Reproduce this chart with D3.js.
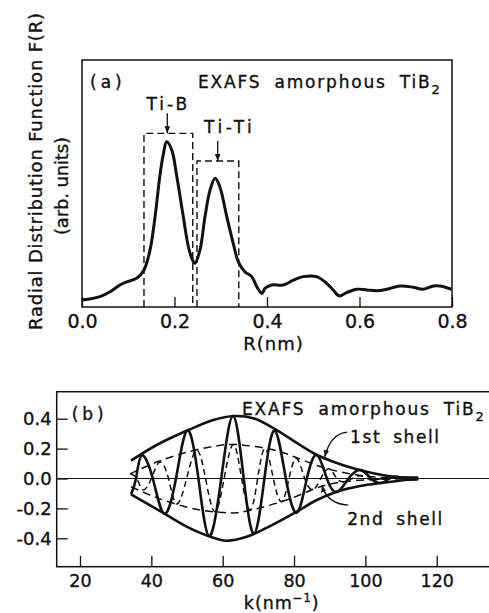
<!DOCTYPE html>
<html>
<head>
<meta charset="utf-8">
<script src="https://cdn.jsdelivr.net/npm/d3@7"></script>
<style>
  html, body { margin: 0; padding: 0; background: #fff; }
  svg { display: block; font-family: "DejaVu Sans", sans-serif; }
  svg text { stroke: #111; stroke-width: 0.35px; }
</style>
</head>
<body>
<svg id="chart" width="489" height="613"></svg>
<script>
// ---------- (a) radial distribution function F(R) ----------
const rdfR = [0.000, 0.039, 0.061, 0.082, 0.097, 0.118, 0.134, 0.147, 0.158, 0.169, 0.176, 0.183,
              0.194, 0.205, 0.219, 0.230, 0.239, 0.244, 0.255, 0.266, 0.277, 0.288, 0.298, 0.313,
              0.327, 0.338, 0.352, 0.367, 0.378, 0.389, 0.396, 0.410, 0.435, 0.457, 0.478, 0.507,
              0.529, 0.543, 0.556, 0.572, 0.594, 0.616, 0.637, 0.659, 0.688, 0.716, 0.738, 0.760,
              0.774, 0.799];
const rdfF = [2.8, 4.2, 6.2, 8.9, 10.2, 11.6, 15.0, 23.0, 36.6, 54.0, 62.0, 66.9,
              63.6, 52.8, 36.6, 24.4, 19.0, 17.7, 23.0, 36.6, 47.4, 52.1, 48.7, 36.6,
              25.8, 18.3, 14.3, 12.3, 8.2, 5.5, 7.6, 8.9, 8.9, 10.9, 12.3, 12.3,
              9.6, 6.9, 4.5, 5.8, 7.2, 6.9, 6.6, 7.2, 8.5, 8.0, 7.2, 8.5,
              8.5, 7.2];
const rTicks = [0, 0.2, 0.4, 0.6, 0.8];

// filter windows around the two coordination shells
const windowNames  = ["Ti-B", "Ti-Ti"];
const windowFrom   = [0.134, 0.2486];
const windowTo     = [0.2394, 0.339];
const windowTop    = [70.3, 59.1];
const windowArrowR = [0.1844, 0.2934];

// ---------- (b) back-transformed EXAFS of each shell: [k, chi] ----------
const kTicks   = [20, 40, 60, 80, 100, 120];
const chiTicks = [-0.4, -0.2, 0.0, 0.2, 0.4];

const shell1Wave = [[34.3, -0.106], [35.7, 0.0], [37.3, 0.155], [40.4, 0.0], [43.6, -0.235],
  [46.9, 0.0], [50.1, 0.322], [53.2, 0.0], [56.2, -0.385], [59.6, 0.0], [62.9, 0.418],
  [65.9, 0.0], [68.8, -0.37], [71.7, 0.0], [74.6, 0.32], [77.7, 0.0], [80.8, -0.228],
  [83.6, 0.0], [86.4, 0.157], [89.2, 0.0], [92.0, -0.09], [95.3, 0.0], [98.7, 0.056],
  [101.6, 0.0], [104.5, -0.03], [106.7, 0.0], [109.0, 0.012], [111.5, -0.006], [114.8, 0.0]];
const shell1Upper = [[34.3, 0.119], [41.5, 0.224], [50.4, 0.324], [57.4, 0.391], [63.0, 0.418],
  [68.6, 0.403], [75.1, 0.324], [81.7, 0.224], [86.4, 0.157], [91.0, 0.112], [96.6, 0.068],
  [102.2, 0.035], [107.8, 0.012], [114.8, 0.0]];
const shell1Lower = [[34.3, -0.106], [38.7, -0.166], [43.8, -0.237], [49.9, -0.322], [56.0, -0.385],
  [61.1, -0.416], [66.7, -0.39], [72.3, -0.33], [79.8, -0.235], [86.4, -0.144], [92.0, -0.088],
  [98.5, -0.05], [105.0, -0.028], [114.8, 0.0]];

const shell2Wave = [[34.2, 0.03], [35.9, 0.0], [37.7, -0.075], [40.0, 0.0], [42.4, 0.11],
  [44.8, 0.0], [47.1, -0.17], [49.9, 0.0], [52.7, 0.19], [55.2, 0.0], [57.8, -0.222],
  [60.4, 0.0], [63.0, 0.228], [65.3, 0.0], [67.7, -0.21], [69.8, 0.0], [71.9, 0.2],
  [74.2, 0.0], [76.5, -0.155], [78.6, 0.0], [80.7, 0.135], [83.0, 0.0], [85.3, -0.075],
  [87.5, 0.0], [89.8, 0.065], [92.0, 0.0], [94.2, -0.022], [96.3, 0.0], [98.5, 0.018],
  [100.6, 0.0], [102.7, -0.01], [105.5, 0.0], [114.8, 0.0]];
const shell2Upper = [[34.0, 0.03], [41.5, 0.11], [49.9, 0.175], [57.4, 0.215], [62.5, 0.228],
  [68.6, 0.215], [76.1, 0.18], [81.7, 0.13], [87.3, 0.08], [92.9, 0.045], [100.4, 0.015],
  [107.0, 0.004], [114.8, 0.0]];
const shell2Lower = [[34.3, -0.055], [39.6, -0.11], [46.2, -0.166], [53.6, -0.211], [59.2, -0.225],
  [63.9, -0.229], [71.4, -0.19], [77.9, -0.144], [83.6, -0.09], [87.3, -0.055], [93.0, -0.025],
  [100.0, -0.01], [114.8, 0.0]];

// ---------- drawing ----------
const svg = d3.select("#chart");
const ink = "#111";

svg.append("defs").append("marker")
  .attr("id", "arrowhead")
  .attr("viewBox", "0 0 10 10")
  .attr("refX", 10).attr("refY", 5)
  .attr("markerWidth", 7).attr("markerHeight", 7)
  .attr("markerUnits", "userSpaceOnUse")
  .attr("orient", "auto")
  .append("path").attr("d", "M0,1L10,5L0,9Z").attr("fill", ink).attr("stroke", "none");

function styleAxis(g, size) {
  g.select(".domain").remove();
  g.attr("font-family", null).attr("font-size", size);
  g.selectAll(".tick line").attr("stroke", ink).attr("stroke-width", 1.3);
  g.selectAll(".tick text").attr("fill", ink);
}

// ===== panel (a) =====
const frameA = { x0: 82, x1: 452, y0: 60, y1: 307 };
const xA = d3.scaleLinear().domain([0, 0.8]).range([frameA.x0, frameA.x1]);
const yA = d3.scaleLinear().domain([0, 100]).range([frameA.y1, frameA.y0]);
const gA = svg.append("g");

gA.append("rect")
  .attr("x", frameA.x0).attr("y", frameA.y0)
  .attr("width", frameA.x1 - frameA.x0).attr("height", frameA.y1 - frameA.y0)
  .attr("fill", "none").attr("stroke", ink).attr("stroke-width", 1.5);

gA.append("g")
  .attr("transform", `translate(0,${frameA.y1})`)
  .call(d3.axisBottom(xA).tickValues(rTicks).tickSize(-10).tickPadding(8).tickFormat(d3.format(".1f")))
  .call(g => styleAxis(g, 19));

// window boxes with arrows and labels
windowNames.forEach((name, i) => {
  const p = d3.path();
  p.moveTo(xA(windowFrom[i]), yA(0));
  p.lineTo(xA(windowFrom[i]), yA(windowTop[i]));
  p.lineTo(xA(windowTo[i]), yA(windowTop[i]));
  p.lineTo(xA(windowTo[i]), yA(0));
  gA.append("path").attr("d", p.toString())
    .attr("fill", "none").attr("stroke", ink).attr("stroke-width", 1.4)
    .attr("stroke-dasharray", "7,4");
  gA.append("line")
    .attr("x1", xA(windowArrowR[i])).attr("x2", xA(windowArrowR[i]))
    .attr("y1", yA(windowTop[i]) - 20).attr("y2", yA(windowTop[i]))
    .attr("stroke", ink).attr("stroke-width", 1.3)
    .attr("marker-end", "url(#arrowhead)");
});
gA.append("text").text(windowNames[0])
  .attr("x", xA(windowArrowR[0]) + 1).attr("y", yA(windowTop[0]) - 23)
  .attr("text-anchor", "middle").attr("font-size", 17).attr("letter-spacing", 3).attr("fill", ink);
gA.append("text").text(windowNames[1])
  .attr("x", xA(windowArrowR[1]) + 12).attr("y", yA(windowTop[1]) - 28)
  .attr("text-anchor", "middle").attr("font-size", 17).attr("letter-spacing", 3.5).attr("fill", ink);

// F(R) curve
gA.append("path")
  .datum(d3.zip(rdfR, rdfF))
  .attr("d", d3.line().x(d => xA(d[0])).y(d => yA(d[1])).curve(d3.curveCatmullRom.alpha(0.5)))
  .attr("fill", "none").attr("stroke", ink).attr("stroke-width", 3)
  .attr("stroke-linejoin", "round");

// panel (a) texts
gA.append("text").text("(a)")
  .attr("x", 90).attr("y", 88).attr("font-size", 17).attr("letter-spacing", 4).attr("fill", ink);
const titleA = gA.append("text").attr("x", 198).attr("y", 88)
  .attr("font-size", 17).attr("letter-spacing", 1.8).attr("word-spacing", 6).attr("fill", ink);
titleA.append("tspan").text("EXAFS amorphous TiB");
titleA.append("tspan").text("2").attr("font-size", 13).attr("dy", 6);

gA.append("text").text("R(nm)")
  .attr("x", 273.5).attr("y", 350).attr("text-anchor", "middle")
  .attr("font-size", 18).attr("letter-spacing", 1).attr("fill", ink);

gA.append("text").text("Radial Distribution Function F(R)")
  .attr("transform", "translate(41.5,171.5) rotate(-90)")
  .attr("text-anchor", "middle").attr("font-size", 18)
  .attr("textLength", 317).attr("lengthAdjust", "spacing").attr("fill", ink);
gA.append("text").text("(arb. units)")
  .attr("transform", "translate(68,186) rotate(-90)")
  .attr("text-anchor", "middle").attr("font-size", 18)
  .attr("textLength", 98).attr("lengthAdjust", "spacing").attr("fill", ink);

// ===== panel (b) =====
const frameB = { x0: 56.7, x1: 492, y0: 391.7, y1: 566.7 };
const xB = d3.scaleLinear().domain([20, 120]).range([80, 436.7]);
const yB = d3.scaleLinear().domain([-0.4, 0.4]).range([538.3, 418.7]);
const gB = svg.append("g");

gB.append("rect")
  .attr("x", frameB.x0).attr("y", frameB.y0)
  .attr("width", frameB.x1 - frameB.x0).attr("height", frameB.y1 - frameB.y0)
  .attr("fill", "none").attr("stroke", ink).attr("stroke-width", 1.5);

gB.append("g")
  .attr("transform", `translate(0,${frameB.y1})`)
  .call(d3.axisBottom(xB).tickValues(kTicks).tickSize(-11).tickPadding(7.5).tickFormat(d3.format("d")))
  .call(g => styleAxis(g, 17.5));

const chiFormat = v => d3.format(".1f")(v).replace("\u2212", "-");
gB.append("g")
  .attr("transform", `translate(${frameB.x0},0)`)
  .call(d3.axisLeft(yB).tickValues(chiTicks).tickSize(-11).tickPadding(5).tickFormat(chiFormat))
  .call(g => styleAxis(g, 18));

// zero line
gB.append("line")
  .attr("x1", frameB.x0).attr("x2", frameB.x1)
  .attr("y1", yB(0)).attr("y2", yB(0))
  .attr("stroke", ink).attr("stroke-width", 1.1);

const lineB = curve => d3.line().x(d => xB(d[0])).y(d => yB(d[1])).curve(curve);

// 2nd shell (dashed)
[shell2Upper, shell2Lower].forEach(env => {
  gB.append("path").datum(env)
    .attr("d", lineB(d3.curveCatmullRom.alpha(0.5)))
    .attr("fill", "none").attr("stroke", ink).attr("stroke-width", 1.5)
    .attr("stroke-dasharray", "8,5");
});
gB.append("path").datum(shell2Wave)
  .attr("d", lineB(d3.curveNatural))
  .attr("fill", "none").attr("stroke", ink).attr("stroke-width", 1.5)
  .attr("stroke-dasharray", "6,4");

// 1st shell (solid)
[shell1Upper, shell1Lower].forEach(env => {
  gB.append("path").datum(env)
    .attr("d", lineB(d3.curveCatmullRom.alpha(0.5)))
    .attr("fill", "none").attr("stroke", ink).attr("stroke-width", 2.6);
});
gB.append("path").datum(shell1Wave)
  .attr("d", lineB(d3.curveNatural))
  .attr("fill", "none").attr("stroke", ink).attr("stroke-width", 2.6)
  .attr("stroke-linejoin", "round");

// converging tail
gB.append("path")
  .datum([[110.0, 0.0], [114.8, 0.0]])
  .attr("d", lineB(d3.curveLinear))
  .attr("stroke", ink).attr("stroke-width", 4.5);

// leader for "1st shell"
{
  const p = d3.path();
  p.moveTo(xB(94.9), yB(0.31));
  p.quadraticCurveTo(xB(90.3), yB(0.30), xB(88.6), yB(0.145));
  gB.append("path").attr("d", p.toString())
    .attr("fill", "none").attr("stroke", ink).attr("stroke-width", 1.4)
    .attr("marker-end", "url(#arrowhead)");
}
// leader for "2nd shell"
{
  const p = d3.path();
  p.moveTo(xB(95.2), yB(-0.178));
  p.quadraticCurveTo(xB(89.3), yB(-0.17), xB(87.8), yB(-0.045));
  gB.append("path").attr("d", p.toString())
    .attr("fill", "none").attr("stroke", ink).attr("stroke-width", 1.4)
    .attr("marker-end", "url(#arrowhead)");
}

gB.append("text").text("1st shell")
  .attr("x", xB(95.7)).attr("y", 443)
  .attr("font-size", 17).attr("letter-spacing", 1.6).attr("word-spacing", 5).attr("fill", ink);
gB.append("text").text("2nd shell")
  .attr("x", xB(94.9)).attr("y", 525)
  .attr("font-size", 17).attr("letter-spacing", 1.6).attr("word-spacing", 5).attr("fill", ink);

gB.append("text").text("(b)")
  .attr("x", 71.7).attr("y", 420).attr("font-size", 17).attr("letter-spacing", 4).attr("fill", ink);
const titleB = gB.append("text").attr("x", 242).attr("y", 415)
  .attr("font-size", 17).attr("letter-spacing", 1.8).attr("word-spacing", 6).attr("fill", ink);
titleB.append("tspan").text("EXAFS amorphous TiB");
titleB.append("tspan").text("2").attr("font-size", 13).attr("dy", 6);

const kLabel = gB.append("text").attr("x", 281.7).attr("y", 609)
  .attr("text-anchor", "middle").attr("font-size", 17.5).attr("letter-spacing", 1).attr("fill", ink);
kLabel.append("tspan").text("k(nm");
kLabel.append("tspan").text("\u22121").attr("font-size", 11.5).attr("dy", -7);
kLabel.append("tspan").text(")").attr("dy", 7);
</script>
</body>
</html>
